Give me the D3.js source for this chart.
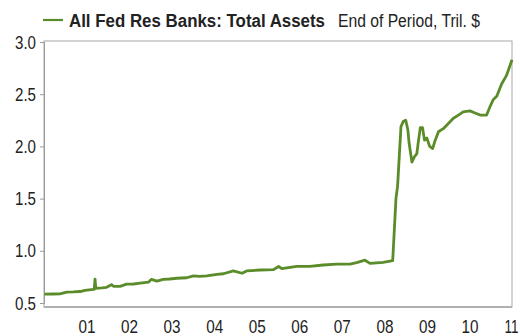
<!DOCTYPE html>
<html>
<head>
<meta charset="utf-8">
<script src="https://cdn.jsdelivr.net/npm/d3@7"></script>
<style>
  html, body { margin: 0; padding: 0; background: #fff; }
  svg { display: block; }
  text { font-family: "Liberation Sans", Arial, sans-serif; fill: #222; }
</style>
</head>
<body>
<svg id="chart" width="520" height="336"></svg>
<script>
// ---- data ----
const seriesName = "All Fed Res Banks: Total Assets";
const unitsLabel = "End of Period, Tril. $";
const dates = [
  "2000-07-05","2000-09-20","2000-11-15","2001-01-12","2001-03-10","2001-05-07","2001-06-18","2001-08-28",
  "2001-09-05","2001-09-12","2001-09-19","2001-11-10","2001-12-20","2002-02-01","2002-02-20","2002-04-15",
  "2002-06-10","2002-08-10","2002-10-05","2002-12-15","2003-01-10","2003-02-25","2003-04-20","2003-06-15",
  "2003-08-15","2003-11-08","2004-01-05","2004-02-25","2004-04-28","2004-07-25","2004-09-18","2004-12-12",
  "2005-02-25","2005-04-05","2005-07-31","2005-11-22","2006-01-05","2006-02-01","2006-06-10","2006-10-01",
  "2007-01-22","2007-05-18","2007-09-10","2007-11-06","2008-01-16","2008-02-28","2008-06-20","2008-09-10",
  "2008-09-24","2008-10-08","2008-10-22","2008-11-20","2008-12-10","2008-12-31","2009-01-18","2009-01-29",
  "2009-02-22","2009-03-15","2009-04-05","2009-04-20","2009-05-05","2009-05-24","2009-06-10","2009-06-30",
  "2009-07-24","2009-08-19","2009-09-10","2009-10-08","2009-11-18","2010-01-01","2010-02-13","2010-03-28",
  "2010-05-08","2010-07-05","2010-08-18","2010-09-30","2010-11-25","2010-12-24","2011-01-22","2011-02-20",
  "2011-04-04","2011-05-15","2011-07-01"
];
const totalAssets = [
  0.585,0.586,0.588,0.605,0.606,0.610,0.620,0.630,
  0.630,0.728,0.640,0.645,0.650,0.675,0.660,0.660,
  0.680,0.682,0.690,0.700,0.727,0.710,0.727,0.730,
  0.737,0.742,0.760,0.755,0.760,0.775,0.780,0.807,
  0.785,0.807,0.816,0.820,0.850,0.830,0.850,0.850,
  0.864,0.873,0.873,0.886,0.910,0.880,0.890,0.905,
  1.200,1.500,1.620,2.190,2.240,2.250,2.160,2.030,
  1.850,1.900,1.930,2.060,2.180,2.180,2.060,2.080,
  2.000,1.980,2.060,2.140,2.170,2.220,2.270,2.300,
  2.330,2.340,2.320,2.300,2.300,2.380,2.450,2.480,
  2.600,2.680,2.830
];
const yTicks = [0.5, 1.0, 1.5, 2.0, 2.5, 3.0];
const xTickYears = [2001,2002,2003,2004,2005,2006,2007,2008,2009,2010,2011];
const xTickLabels = ["01","02","03","04","05","06","07","08","09","10","11"];

// ---- layout ----
const svg = d3.select("#chart");
const parse = d3.timeParse("%Y-%m-%d");
const data = dates.map((d, i) => ({ date: parse(d), value: totalAssets[i] }));

const plotL = 44, plotR = 512, plotT = 41, plotB = 307;
const x = d3.scaleTime()
  .domain([new Date(2000, 6, 1), new Date(2011, 6, 1)])
  .range([plotL, plotR]);
const y = d3.scaleLinear().domain([0.5, 3.0]).range([303, 42]);

// frame
svg.append("rect")
  .attr("x", plotL).attr("y", plotT)
  .attr("width", plotR - plotL).attr("height", plotB - plotT)
  .attr("fill", "none").attr("stroke", "#a8a8a8").attr("stroke-width", 1);
svg.append("line")
  .attr("x1", plotL).attr("x2", plotR).attr("y1", plotB).attr("y2", plotB)
  .attr("stroke", "#b0b0b0").attr("stroke-width", 2);

// y axis
const yAxis = d3.axisLeft(y).tickValues(yTicks).tickFormat(d3.format(".1f")).tickSize(4).tickPadding(4);
const gy = svg.append("g").attr("transform", `translate(${plotL},0)`).call(yAxis);
gy.select(".domain").attr("stroke", "#9a9a9a");
gy.selectAll(".tick line").attr("stroke", "#9a9a9a");
gy.selectAll(".tick text").style("font-size", "19px").attr("fill", "#222")
  .attr("textLength", 21).attr("lengthAdjust", "spacingAndGlyphs");

// x axis (labels at mid-year)
const xAxis = d3.axisBottom(x)
  .tickValues(xTickYears.map(yr => new Date(yr, 6, 1)))
  .tickFormat((d, i) => xTickLabels[i])
  .tickSize(0).tickPadding(13);
const gx = svg.append("g").attr("transform", `translate(0,${plotB})`).call(xAxis);
gx.select(".domain").remove();
gx.selectAll(".tick text").style("font-size", "19px").attr("fill", "#222")
  .attr("textLength", 17).attr("lengthAdjust", "spacingAndGlyphs");
// last label sits against the right edge: keep it inside the canvas
gx.selectAll(".tick text").filter((d, i, n) => i === n.length - 1)
  .attr("text-anchor", "end").attr("dx", 6)
  .attr("textLength", 14);

// line
const line = d3.line().x(d => x(d.date)).y(d => y(d.value));
svg.append("path").datum(data)
  .attr("d", line)
  .attr("fill", "none")
  .attr("stroke", "#5b8c2a")
  .attr("stroke-width", 2.8)
  .attr("stroke-linejoin", "round");

// legend / title
svg.append("line").attr("x1", 43).attr("x2", 63).attr("y1", 20).attr("y2", 20)
  .attr("stroke", "#5b8c2a").attr("stroke-width", 2.2);
svg.append("text").attr("x", 69).attr("y", 26.5).style("font-size", "17.5px")
  .style("font-weight", "bold")
  .attr("textLength", 256).attr("lengthAdjust", "spacingAndGlyphs")
  .text(seriesName);
svg.append("text").attr("x", 338).attr("y", 26.5).style("font-size", "17.5px")
  .attr("textLength", 142).attr("lengthAdjust", "spacingAndGlyphs")
  .text(unitsLabel);
</script>
</body>
</html>
